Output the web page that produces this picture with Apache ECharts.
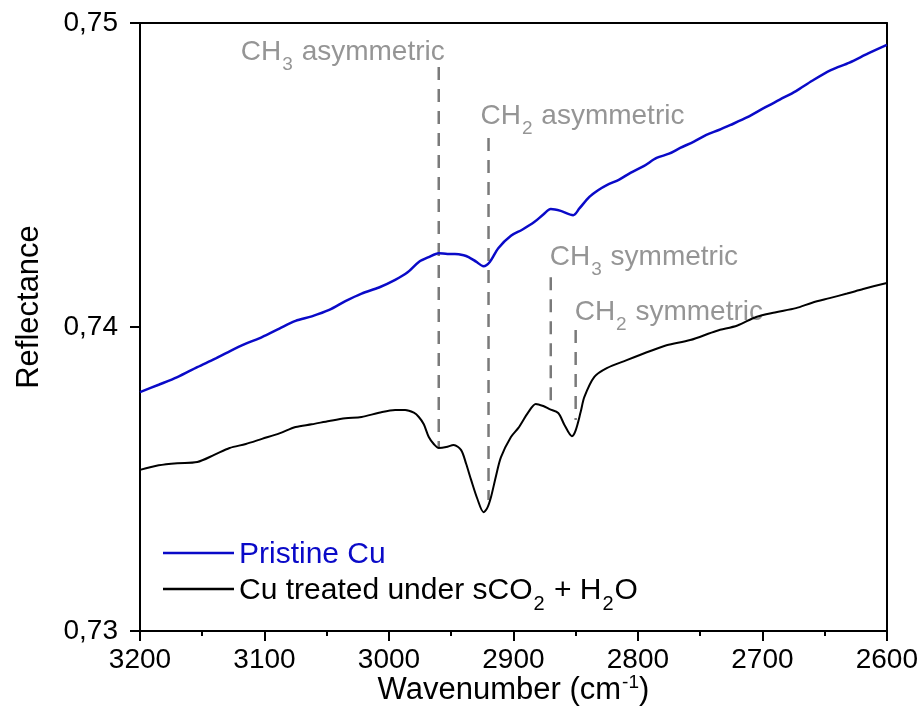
<!DOCTYPE html>
<html>
<head>
<meta charset="utf-8">
<script src="https://cdn.jsdelivr.net/npm/echarts@6/dist/echarts.min.js"></script>
<style>
  html, body { margin: 0; padding: 0; background: #fff; }
  #myChart { width: 921px; height: 728px; }
</style>
</head>
<body>
<div id="myChart"></div>
<script>
// wavenumber (cm-1) / reflectance
const pristineWn = [3200, 3185, 3170, 3154, 3140, 3128, 3115, 3102, 3088, 3075, 3062, 3048, 3035, 3022, 3008, 2995, 2985, 2976, 2968, 2960, 2953, 2947, 2940, 2936, 2930, 2924, 2919, 2912, 2902, 2893, 2883, 2876, 2870, 2862, 2852, 2847, 2839, 2832, 2825, 2815, 2806, 2795, 2785, 2775, 2766, 2755, 2745, 2735, 2726, 2712, 2699, 2686, 2673, 2660, 2645, 2630, 2615, 2600];
const pristineVal = [0.73786, 0.73810, 0.73835, 0.73868, 0.73895, 0.73920, 0.73945, 0.73967, 0.73995, 0.74020, 0.74035, 0.74056, 0.74085, 0.74110, 0.74130, 0.74155, 0.74180, 0.74214, 0.74230, 0.74243, 0.74240, 0.74240, 0.74236, 0.74230, 0.74215, 0.74200, 0.74214, 0.74260, 0.74300, 0.74320, 0.74346, 0.74370, 0.74388, 0.74382, 0.74368, 0.74390, 0.74428, 0.74450, 0.74467, 0.74485, 0.74507, 0.74530, 0.74556, 0.74570, 0.74589, 0.74610, 0.74632, 0.74648, 0.74664, 0.74690, 0.74720, 0.74748, 0.74776, 0.74810, 0.74845, 0.74870, 0.74900, 0.74928];

const treatedWn = [3200, 3185, 3170, 3154, 3140, 3128, 3115, 3102, 3088, 3075, 3062, 3048, 3035, 3022, 3008, 2995, 2987, 2980, 2976, 2972, 2968, 2964, 2960, 2954, 2948, 2942, 2938, 2934, 2929, 2924, 2921, 2918, 2914, 2910, 2902, 2896, 2888, 2882, 2876, 2871, 2864, 2859, 2853, 2850, 2846, 2843, 2835, 2825, 2809, 2790, 2777, 2758, 2737, 2720, 2705, 2690, 2673, 2660, 2646, 2632, 2619, 2600];
const treatedVal = [0.73530, 0.73545, 0.73552, 0.73556, 0.73580, 0.73602, 0.73615, 0.73632, 0.73650, 0.73671, 0.73680, 0.73691, 0.73700, 0.73704, 0.73718, 0.73727, 0.73727, 0.73718, 0.73704, 0.73680, 0.73638, 0.73615, 0.73602, 0.73605, 0.73612, 0.73595, 0.73550, 0.73497, 0.73435, 0.73391, 0.73405, 0.73441, 0.73510, 0.73572, 0.73638, 0.73668, 0.73720, 0.73747, 0.73740, 0.73730, 0.73717, 0.73678, 0.73641, 0.73660, 0.73720, 0.73770, 0.73836, 0.73865, 0.73891, 0.73921, 0.73940, 0.73957, 0.73987, 0.74005, 0.74033, 0.74048, 0.74062, 0.74080, 0.74095, 0.74110, 0.74125, 0.74145];

// band markers
const bandWn = [2960, 2920, 2870, 2850];
const bandTop = [0.74855, 0.74622, 0.74164, 0.73990];
const bandBottom = [0.73605, 0.73431, 0.73743, 0.73694];
const bandGroup = ["3", "2", "3", "2"];
const bandMode = ["asymmetric", "asymmetric", "symmetric", "symmetric"];

const xTicks = [3200, 3100, 3000, 2900, 2800, 2700, 2600];
const yTicks = [0.73, 0.74, 0.75];

const blue = "#0a0ac8";
const gray = "#7a7a7a";
const font = "Liberation Sans";

const pristineName = "Pristine Cu";
const treatedName = "Cu treated under sCO2 + H2O";

function pairs(xs, ys) {
  return xs.map((x, i) => [x, ys[i]]);
}

const bandSeries = bandWn.map((wn, i) => ({
  type: "line",
  data: [[wn, bandTop[i]], [wn, bandBottom[i]]],
  symbol: "none",
  silent: true,
  lineStyle: { color: gray, width: 2.5, type: [13, 9] },
  z: 1
}));

const labelAlign = ["right", "left", "left", "left"];
const labelShift = [6, -8, -1, -1];
const labelGap = [1, 8, 6, 4];

const bandLabels = {
  type: "scatter",
  symbolSize: 0,
  silent: true,
  data: bandWn.map((wn, i) => ({
    value: [wn, bandTop[i]],
    label: {
      show: true,
      position: "top",
      distance: labelGap[i],
      align: labelAlign[i],
      offset: [labelShift[i], 0],
      formatter: "{a|CH}{s|" + bandGroup[i] + "}{a| " + bandMode[i] + "}",
      rich: {
        a: { fontSize: 28, fontFamily: font, color: gray, lineHeight: 34, verticalAlign: "bottom" },
        s: { fontSize: 19, fontFamily: font, color: gray, lineHeight: 34, verticalAlign: "bottom", padding: [0, 1, -8, 1] }
      }
    }
  }))
};

const chartData = {
  animation: false,
  textStyle: { fontFamily: font },
  grid: { left: 140, right: 30, top: 23, bottom: 97, containLabel: false },
  legend: {
    orient: "vertical",
    left: 158,
    top: 535,
    icon: "rect",
    itemWidth: 71,
    itemHeight: 2.5,
    itemGap: 6,
    data: [
      { name: pristineName, textStyle: { color: blue } },
      { name: treatedName, textStyle: { color: "#000" } }
    ],
    formatter: function(name) {
      if (name == treatedName) {
        return "{a|Cu treated under sCO}{s|2}{a| + H}{s|2}{a|O}";
      }
      return "{a|" + name + "}";
    },
    textStyle: {
      fontSize: 30,
      fontFamily: font,
      rich: {
        a: { fontSize: 30, fontFamily: font, lineHeight: 34, verticalAlign: "bottom" },
        s: { fontSize: 20, fontFamily: font, lineHeight: 34, verticalAlign: "bottom", padding: [0, 1, -8, 1] }
      }
    }
  },
  xAxis: [
    {
      type: "value",
      inverse: true,
      min: 2600,
      max: 3200,
      interval: 100,
      name: "{a|Wavenumber (cm}{s|-1}{a|)}",
      nameLocation: "middle",
      nameGap: 39,
      nameMoveOverlap: false,
      nameTextStyle: {
        rich: {
          a: { fontSize: 31, fontFamily: font, color: "#000", lineHeight: 36, verticalAlign: "bottom" },
          s: { fontSize: 19, fontFamily: font, color: "#000", lineHeight: 36, verticalAlign: "bottom", padding: [0, 0, 14, 1] }
        }
      },
      axisLine: { lineStyle: { color: "#000", width: 2 } },
      axisTick: { length: 10, lineStyle: { width: 2 } },
      minorTick: { show: true, splitNumber: 2, length: 5, lineStyle: { color: "#000", width: 2 } },
      splitLine: { show: false },
      axisLabel: {
        fontSize: 28,
        fontFamily: font,
        color: "#000",
        margin: 15,
        customValues: xTicks,
        formatter: v => String(v)
      }
    },
    {
      type: "value",
      position: "top",
      min: 2600,
      max: 3200,
      axisLine: { show: true, onZero: false, lineStyle: { color: "#000", width: 2 } },
      axisTick: { show: false },
      axisLabel: { show: false },
      splitLine: { show: false }
    }
  ],
  yAxis: [
    {
      type: "value",
      min: 0.73,
      max: 0.75,
      interval: 0.01,
      name: "Reflectance",
      nameLocation: "middle",
      nameGap: 95,
      nameMoveOverlap: false,
      nameTextStyle: { fontSize: 31, fontFamily: font, color: "#000", padding: [0, 0, 0, 40] },
      axisLine: { show: true, lineStyle: { color: "#000", width: 2 } },
      axisTick: { show: true, length: 10, lineStyle: { width: 2 } },
      splitLine: { show: false },
      axisLabel: {
        fontSize: 28,
        fontFamily: font,
        color: "#000",
        margin: 22,
        customValues: yTicks,
        formatter: v => v.toFixed(2).replace(".", ",")
      }
    },
    {
      type: "value",
      position: "right",
      min: 0.73,
      max: 0.75,
      axisLine: { show: true, onZero: false, lineStyle: { color: "#000", width: 2 } },
      axisTick: { show: false },
      axisLabel: { show: false },
      splitLine: { show: false }
    }
  ],
  series: [
    {
      name: pristineName,
      type: "line",
      data: pairs(pristineWn, pristineVal),
      symbol: "none",
      smooth: 0.3,
      lineStyle: { color: blue, width: 2.5 },
      itemStyle: { color: blue },
      z: 3
    },
    {
      name: treatedName,
      type: "line",
      data: pairs(treatedWn, treatedVal),
      symbol: "none",
      smooth: 0.3,
      lineStyle: { color: "#000", width: 2 },
      itemStyle: { color: "#000" },
      z: 3
    },
    ...bandSeries,
    bandLabels
  ]
};

let myChart = echarts.init(document.getElementById("myChart"));
myChart.setOption(chartData);
</script>
</body>
</html>
